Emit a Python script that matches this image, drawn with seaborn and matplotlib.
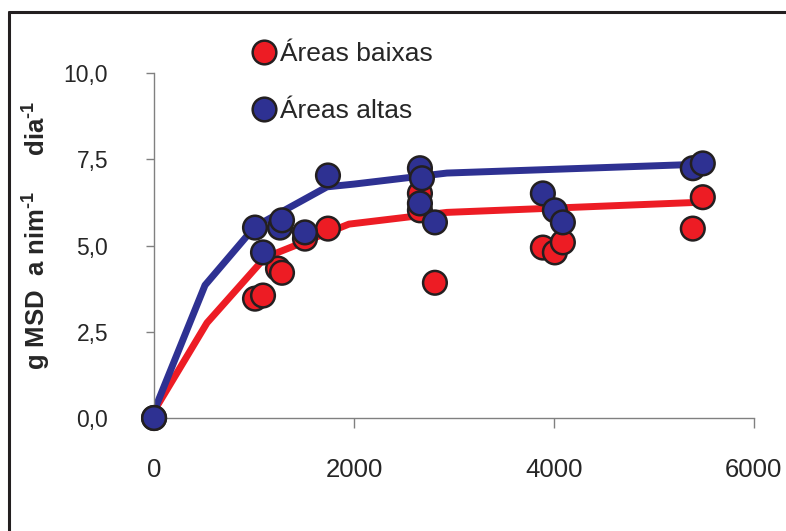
import numpy as np
import pandas as pd
import matplotlib.pyplot as plt
import seaborn as sns
from matplotlib.lines import Line2D

# pontos observados
x_baixas = [0, 1010, 1090, 1240, 1280, 1510, 1740, 2660, 2660, 2810, 3890, 4010, 4090, 5390, 5490]
y_baixas = [0.0, 3.46, 3.55, 4.33, 4.21, 5.20, 5.49, 6.51, 6.02, 3.92, 4.94, 4.80, 5.09, 5.49, 6.40]
x_altas = [0, 1010, 1090, 1260, 1280, 1510, 1740, 2660, 2680, 2660, 2810, 3890, 4010, 4090, 5390, 5490]
y_altas = [0.0, 5.52, 4.80, 5.52, 5.73, 5.38, 7.03, 7.24, 6.95, 6.22, 5.67, 6.51, 6.02, 5.67, 7.24, 7.38]

# curvas ajustadas
xc_baixas = [0, 530, 1110, 1950, 2930, 5430]
yc_baixas = [0.2, 2.76, 4.65, 5.62, 5.96, 6.25]
xc_altas = [0, 510, 1010, 1730, 2000, 2930, 5400]
yc_altas = [0.2, 3.85, 5.55, 6.70, 6.78, 7.10, 7.35]

grupos = ["Áreas baixas", "Áreas altas"]
cores = ["#ED1C24", "#2E3192"]

pontos = pd.DataFrame({
    "x": x_baixas + x_altas,
    "y": y_baixas + y_altas,
    "grupo": [grupos[0]] * len(x_baixas) + [grupos[1]] * len(x_altas),
})
curvas = pd.DataFrame({
    "x": xc_baixas + xc_altas,
    "y": yc_baixas + yc_altas,
    "grupo": [grupos[0]] * len(xc_baixas) + [grupos[1]] * len(xc_altas),
})

sns.set_style("white")
plt.rcParams['font.family'] = ['Liberation Sans', 'DejaVu Sans']
plt.rcParams['mathtext.fontset'] = 'custom'
plt.rcParams['mathtext.rm'] = 'Liberation Sans:bold'
plt.rcParams['mathtext.bf'] = 'Liberation Sans:bold'

fig = plt.figure(figsize=(7.86, 5.31), dpi=100)
ax = fig.add_axes([0.196, 0.2128, 0.763, 0.6497])

pal = dict(zip(grupos, cores))
sns.scatterplot(data=pontos, x="x", y="y", hue="grupo", palette=pal, s=290,
                edgecolor="#231F20", linewidth=1.8, ax=ax, zorder=3, clip_on=False)
sns.lineplot(data=curvas, x="x", y="y", hue="grupo", palette=pal, sort=False,
             estimator=None, linewidth=5, ax=ax, zorder=2, legend=False)

ax.set_xlim(0, 6000)
ax.set_ylim(0, 10)
ax.set_xticks([0, 2000, 4000, 6000])
ax.set_yticks([0, 2.5, 5, 7.5, 10])
ax.set_yticklabels(["0,0", "2,5", "5,0", "7,5", "10,0"])
ax.tick_params(axis="y", length=6, width=1, color="#808080", labelsize=16.5, pad=27, direction="out", left=True)
ax.tick_params(axis="x", length=7, width=1, color="#808080", labelsize=18.5, pad=22, direction="out", bottom=True)
for s in ["top", "right"]:
    ax.spines[s].set_visible(False)
for s in ["left", "bottom"]:
    ax.spines[s].set_color("#808080")
    ax.spines[s].set_linewidth(1)

ax.set_xlabel("")
ax.set_ylabel("g MSD  a nim$^{\\text{-}1}$     dia$^{\\text{-}1}$", fontsize=18.5, fontweight="bold")
ax.yaxis.set_label_coords(-0.17, 0.53)

handles, labels = ax.get_legend_handles_labels()
ax.legend(handles, labels, loc="upper left", bbox_to_anchor=(0.2986, 0.945),
          bbox_transform=fig.transFigure, frameon=False, fontsize=19,
          handletextpad=0.0, labelspacing=1.24, borderpad=0, handlelength=1.2,
          markerscale=1.0)

# moldura
fig.add_artist(Line2D([0.0115, 1.0], [0.977, 0.977], color="#231F20", lw=2.2, transform=fig.transFigure))
fig.add_artist(Line2D([0.0115, 0.0115], [0.0, 0.977], color="#231F20", lw=2.2, transform=fig.transFigure))

fig.savefig("out.png", dpi=100)
